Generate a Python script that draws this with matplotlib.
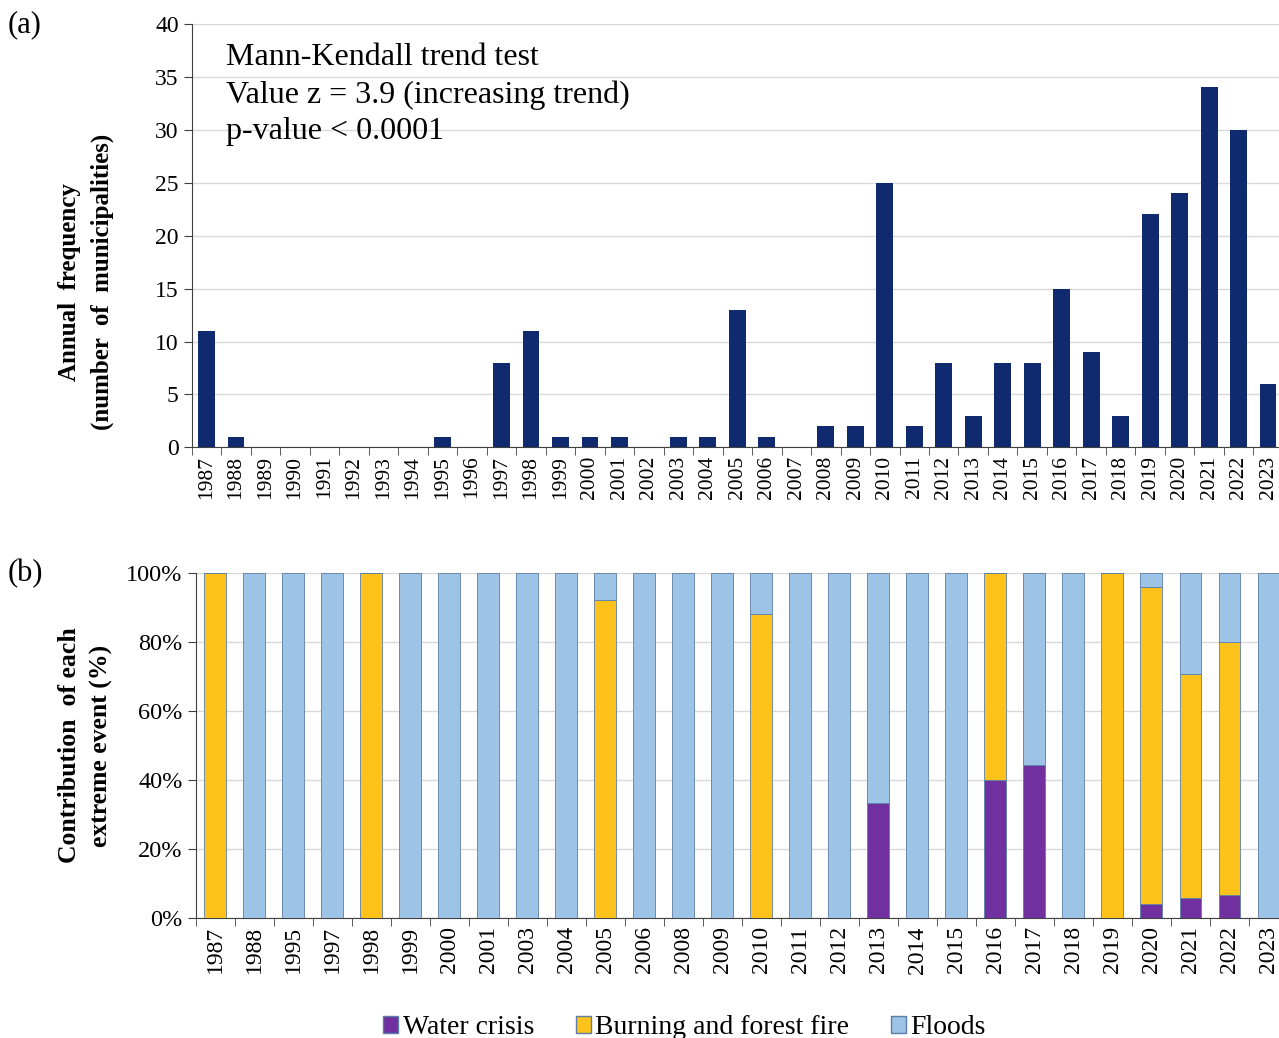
import numpy as np
import matplotlib
matplotlib.use("Agg")
import matplotlib.pyplot as plt
from matplotlib.patches import Patch

plt.rcParams['font.family'] = ['Liberation Serif', 'DejaVu Serif']

# panel (a): annual frequency
years_a = [str(y) for y in range(1987, 2024)]
freq = [11, 1, 0, 0, 0, 0, 0, 0, 1, 0, 8, 11, 1, 1, 1, 0, 1, 1, 13, 1, 0,
        2, 2, 25, 2, 8, 3, 8, 8, 15, 9, 3, 22, 24, 34, 30, 6]

# panel (b): contribution of each event (%)
years_b = ["1987", "1988", "1995", "1997", "1998", "1999", "2000", "2001",
           "2003", "2004", "2005", "2006", "2008", "2009", "2010", "2011",
           "2012", "2013", "2014", "2015", "2016", "2017", "2018", "2019",
           "2020", "2021", "2022", "2023"]
water = [0, 0, 0, 0, 0, 0, 0, 0, 0, 0, 0, 0, 0, 0, 0, 0, 0, 33.3, 0, 0,
         40.0, 44.4, 0, 0, 4.2, 5.9, 6.7, 0]
burning = [100, 0, 0, 0, 100, 0, 0, 0, 0, 0, 92.3, 0, 0, 0, 88.0, 0, 0, 0, 0, 0,
           60.0, 0, 0, 100, 91.7, 64.7, 73.3, 0]
floods = [100 - w - b for w, b in zip(water, burning)]

c_navy = "#0f2a6e"
c_purple = "#7030a0"
c_yellow = "#ffc21a"
c_blue = "#9dc3e6"
grid_c = "#d9d9d9"

fig = plt.figure(figsize=(12.79, 10.38), dpi=100)

# ---------- (a)
ax1 = fig.add_axes([0.150, 0.569, 0.853, 0.408])
x1 = np.arange(len(years_a))
ax1.bar(x1, freq, width=0.57, color=c_navy, zorder=3)
ax1.set_xlim(-0.5, len(years_a) - 0.5)
ax1.set_ylim(0, 40)
ax1.set_yticks(range(0, 41, 5))
ax1.yaxis.grid(True, color=grid_c, lw=1, zorder=0)
ax1.set_xticks(x1)
ax1.set_xticklabels(years_a, rotation=90)
ax1.set_xticks(np.arange(-0.5, len(years_a), 1), minor=True)
ax1.tick_params(axis='x', which='major', length=0, labelsize=15.5, pad=6)
ax1.tick_params(axis='x', which='minor', length=6, color='#404040')
ax1.tick_params(axis='y', labelsize=17, length=6, color='#404040')
for s in ['top', 'right']:
    ax1.spines[s].set_visible(False)
ax1.spines['left'].set_color('#404040')
ax1.spines['bottom'].set_color('#404040')
ax1.set_ylabel("Annual  frequency\n(number  of  municipalities)",
               fontsize=18, fontweight='bold', linespacing=1.55)
ax1.yaxis.set_label_coords(-0.071, 0.39)
ax1.text(0.031, 0.955, "Mann-Kendall trend test\nValue z = 3.9 (increasing trend)\np-value < 0.0001",
         transform=ax1.transAxes, fontsize=23, va='top', linespacing=1.36)
fig.text(0.006, 0.99, "(a)", fontsize=22, va='top')

# ---------- (b)
ax2 = fig.add_axes([0.153, 0.1156, 0.854, 0.3324])
x2 = np.arange(len(years_b))
ec = "#5b7fa6"
ax2.bar(x2, water, width=0.56, color=c_purple, edgecolor=ec, lw=0.6, zorder=3)
ax2.bar(x2, burning, width=0.56, bottom=water, color=c_yellow, edgecolor=ec,
        lw=0.6, zorder=3)
bot2 = [w + b for w, b in zip(water, burning)]
ax2.bar(x2, floods, width=0.56, bottom=bot2, color=c_blue, edgecolor=ec,
        lw=0.6, zorder=3)
ax2.set_xlim(-0.5, len(years_b) - 0.5)
ax2.set_ylim(0, 100)
ax2.set_yticks(range(0, 101, 20))
ax2.set_yticklabels([f"{v}%" for v in range(0, 101, 20)])
ax2.yaxis.grid(True, color=grid_c, lw=1, zorder=0)
ax2.set_xticks(x2)
ax2.set_xticklabels(years_b, rotation=90)
ax2.set_xticks(np.arange(-0.5, len(years_b), 1), minor=True)
ax2.tick_params(axis='x', which='major', length=0, labelsize=17, pad=6)
ax2.tick_params(axis='x', which='minor', length=6, color='#404040')
ax2.tick_params(axis='y', labelsize=17.5, length=6, color='#404040')
for s in ['top', 'right']:
    ax2.spines[s].set_visible(False)
ax2.spines['left'].set_color('#404040')
ax2.spines['bottom'].set_color('#404040')
ax2.set_ylabel("Contribution  of each\nextreme event (%)",
               fontsize=18.5, fontweight='bold', linespacing=1.45)
ax2.yaxis.set_label_coords(-0.076, 0.5)
fig.text(0.006, 0.462, "(b)", fontsize=22, va='top')

handles = [Patch(facecolor=c_purple, edgecolor=ec, label="Water crisis"),
           Patch(facecolor=c_yellow, edgecolor=ec, label="Burning and forest fire"),
           Patch(facecolor=c_blue, edgecolor=ec, label="Floods")]
fig.legend(handles=handles, loc='center', bbox_to_anchor=(0.535, 0.01),
           ncol=3, frameon=False, fontsize=20, handlelength=0.55,
           handleheight=0.55, handletextpad=0.15, columnspacing=1.5)

fig.savefig("out.png", dpi=100)
